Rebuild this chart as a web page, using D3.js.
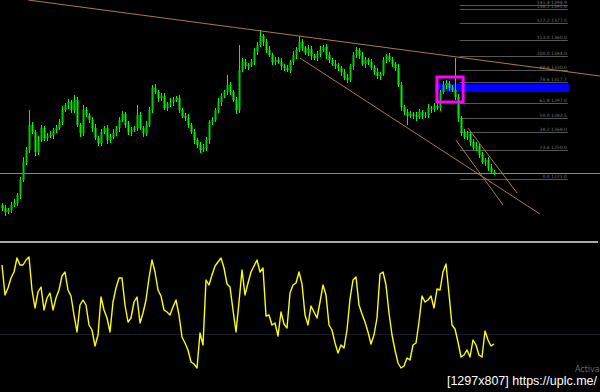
<!DOCTYPE html>
<html><head><meta charset="utf-8">
<script src="https://cdn.jsdelivr.net/npm/d3@7/dist/d3.min.js"></script>
<style>html,body{margin:0;padding:0;background:#000;overflow:hidden}</style>
</head><body>
<svg id="c" width="600" height="392"></svg>
<script>
// ---- price bars (closes, one bar per period) ----
const closes = [1192,1188,1190,1195,1197,1205,1220,1238,1250,1275,
1268,1248,1260,1272,1262,1264,1265,1270,1272,1278,
1290,1295,1298,1290,1300,1275,1267,1290,1285,1280,
1272,1262,1257,1268,1272,1260,1263,1267,1272,1280,
1286,1275,1268,1270,1272,1285,1272,1267,1275,1290,
1312,1308,1302,1304,1292,1296,1298,1300,1302,1290,
1284,1282,1275,1268,1260,1255,1250,1252,1260,1278,
1280,1290,1298,1304,1308,1315,1308,1300,1290,1330,
1338,1334,1335,1338,1348,1355,1364,1358,1350,1345,
1338,1340,1338,1334,1332,1330,1338,1345,1350,1358,
1352,1347,1351,1344,1342,1346,1350,1353,1345,1340,
1336,1334,1332,1328,1322,1320,1334,1345,1350,1344,
1336,1340,1338,1332,1328,1324,1326,1340,1344,1340,
1336,1332,1315,1293,1288,1284,1286,1284,1283,1288,
1284,1285,1292,1291,1294,1292,1308,1315,1317,1312,
1310,1303,1282,1267,1263,1266,1258,1252,1254,1245,
1238,1240,1232,1228,1228];
const firstOpen = 1195;
const wickUp = [2,3,2,3,4,2,3,5,3,15, 3,2,4,3,2,3,4,2,3,3, 4,2,3,2,5,3,2,5,3,2,
3,4,2,3,2,3,3,4,2,3, 3,2,4,3,2,10,3,2,4,3, 3,4,2,3,3,2,4,3,2,3,
2,3,4,2,3,2,3,4,3,2, 3,2,4,3,2,10,3,2,3,25, 4,3,2,3,4,3,6,2,3,4,
2,3,3,4,2,3,2,4,3,6, 3,2,4,3,2,3,4,2,3,3, 2,4,3,2,3,4,2,3,3,2,
4,3,2,3,3,4,2,3,2,3, 3,2,4,3,2,3,3,2,4,3, 2,3,4,2,3,3,2,4,3,2,
3,32,3,2,4,3,2,3,4,2, 3,2,3,4,2];
const wickDn = [3,4,2,3,2,3,4,2,3,3, 2,4,3,2,3,3,2,4,3,2, 3,2,4,3,3,2,4,3,2,3,
4,2,3,3,2,4,3,2,3,4, 2,3,3,4,2,3,2,4,3,2, 3,2,4,3,2,3,3,4,2,3,
2,3,3,2,4,3,3,2,3,4, 3,2,3,4,2,3,3,2,4,3, 2,3,4,2,3,3,2,4,3,2,
3,3,2,4,3,2,3,3,4,2, 3,2,3,4,2,3,3,2,4,3, 2,3,3,4,2,3,2,4,3,3,
2,4,3,2,3,3,4,2,3,2, 3,3,2,4,3,9,2,3,4,2, 3,2,3,4,3,2,3,2,4,3,
2,3,4,3,2,3,4,2,3,3, 2,4,3,2,3];

// ---- oscillator (lower panel) ----
const osc = [107,77,84,94,100,114,107,107,112,115,
82,64,80,85,62,74,79,62,74,82,
96,100,82,76,57,40,67,72,67,47,
42,26,37,75,62,54,40,70,84,94,
94,67,50,54,70,75,49,59,72,94,
112,100,82,76,62,60,57,65,72,57,
35,29,22,10,8,4,39,27,92,87,
97,106,110,114,104,88,85,62,40,70,
102,77,89,100,106,112,100,104,56,57,
47,49,36,60,48,44,79,87,89,100,
88,57,47,66,60,54,70,87,77,47,
42,29,19,27,24,42,73,92,95,67,
58,50,40,28,37,54,98,100,87,59,
37,22,9,4,6,14,12,27,29,50,
76,70,72,76,64,83,82,100,108,78,
47,43,30,15,17,22,15,32,27,17,
15,41,32,26,28];
const oscLevel = 38;

// ---- fibonacci retracement ----
const fibLevels = [0, 23.6, 38.2, 50, 61.8, 78.6, 88.6, 100, 113, 127.2, 138.2, 141.4];
const fibLowPrice = 1221, fibHighPrice = 1344;
const fibSpan = [152.6, 188.6];        // bar-index range of the fib lines

// ---- drawn objects (bar index, price) ----
const trendLines = [
  [[8.7, 1400], [199.3, 1324]],
  [[99.3, 1342], [179.3, 1186]],
  [[151.3, 1260], [167.0, 1195]],
  [[155.3, 1272], [171.7, 1207]]
];
const currentPrice = 1227;
const zoneBand = {from: 144.3, to: 189, lo: 1308, hi: 1316};
const markBox = {from: 145, to: 153.7, lo: 1298, hi: 1323};

// ================= drawing =================
const svg = d3.select("#c");
svg.append("rect").attr("width",600).attr("height",392).attr("fill","#000");

const x = d3.scaleLinear().domain([0, 164]).range([2, 494]);
const y = d3.scaleLinear().domain([1162, 1400]).range([238, 0]);
const yo = d3.scaleLinear().domain([0, 120]).range([372, 252]);
const fibPrice = l => fibLowPrice + (fibHighPrice - fibLowPrice) * l / 100;

const bars = closes.map((c, i) => {
  const o = i === 0 ? firstOpen : closes[i-1];
  return {i, o, c, h: Math.max(o, c) + wickUp[i], l: Math.min(o, c) - wickDn[i]};
});

const main = svg.append("g");
// fib lines
const fib = main.append("g");
fib.selectAll("line").data(fibLevels).join("line")
  .attr("x1", x(fibSpan[0])).attr("x2", x(fibSpan[1]))
  .attr("y1", d => Math.round(y(fibPrice(d))) + 0.5)
  .attr("y2", d => Math.round(y(fibPrice(d))) + 0.5)
  .attr("stroke", "#555555").attr("stroke-width", 1);
fib.selectAll("text").data(fibLevels).join("text")
  .attr("x", x(fibSpan[1]) - 1).attr("y", d => Math.round(y(fibPrice(d))) - 1)
  .attr("text-anchor", "end").attr("font-family", "DejaVu Sans").attr("font-size", 4.5)
  .attr("fill", "#6c7884")
  .text(d => d.toFixed(1) + " " + fibPrice(d).toFixed(1));

// current price line
main.append("line").attr("x1", 0).attr("x2", 600)
  .attr("y1", Math.round(y(currentPrice)) + 0.5).attr("y2", Math.round(y(currentPrice)) + 0.5)
  .attr("stroke", "#8a8a8a").attr("stroke-width", 1);

// blue zone
main.append("rect")
  .attr("x", x(zoneBand.from)).attr("width", x(zoneBand.to) - x(zoneBand.from))
  .attr("y", y(zoneBand.hi)).attr("height", y(zoneBand.lo) - y(zoneBand.hi))
  .attr("fill", "#0000ff");

// candles
const cg = main.append("g");
cg.selectAll("line").data(bars).join("line")
  .attr("x1", d => Math.round(x(d.i)) + 0.5).attr("x2", d => Math.round(x(d.i)) + 0.5)
  .attr("y1", d => y(d.h)).attr("y2", d => y(d.l))
  .attr("stroke", "#00ff00").attr("stroke-width", 1);
cg.selectAll("rect").data(bars).join("rect")
  .attr("x", d => Math.round(x(d.i)) - 0.5).attr("width", 2)
  .attr("y", d => y(Math.max(d.o, d.c)))
  .attr("height", d => Math.max(1, Math.abs(y(d.o) - y(d.c))))
  .attr("fill", d => d.c >= d.o ? "#00cc00" : "#00ee00");

// trend lines
main.selectAll("line.tl").data(trendLines).join("line").attr("class", "tl")
  .attr("x1", d => x(d[0][0])).attr("y1", d => y(d[0][1]))
  .attr("x2", d => x(d[1][0])).attr("y2", d => y(d[1][1]))
  .attr("stroke", "#b07a3c").attr("stroke-width", 1);

// magenta box
main.append("rect")
  .attr("x", x(markBox.from)).attr("width", x(markBox.to) - x(markBox.from))
  .attr("y", y(markBox.hi)).attr("height", y(markBox.lo) - y(markBox.hi))
  .attr("fill", "none").attr("stroke", "#ff00ff").attr("stroke-width", 3);

// separator
svg.append("rect").attr("x", 0).attr("y", 241).attr("width", 598).attr("height", 2).attr("fill", "#a8a8a8");

// oscillator
svg.append("line").attr("x1", 0).attr("x2", 600)
  .attr("y1", Math.round(yo(oscLevel)) + 0.5).attr("y2", Math.round(yo(oscLevel)) + 0.5)
  .attr("stroke", "#1c1a26").attr("stroke-width", 1);
svg.append("path").datum(osc)
  .attr("d", d3.line().x((d, i) => x(i)).y(d => yo(d)))
  .attr("fill", "none").attr("stroke", "#ffff00").attr("stroke-width", 1.4)
  .attr("stroke-linejoin", "round");

// watermark texts
svg.append("text").attr("x", 575).attr("y", 372).attr("font-family", "DejaVu Sans")
  .attr("font-size", 8).attr("fill", "#6a6a6a").text("Activa");
svg.append("text").attr("x", 597).attr("y", 385).attr("text-anchor", "end")
  .attr("font-family", "Liberation Sans").attr("font-size", 12.5).attr("fill", "#ffffff")
  .text("[1297x807] https://uplc.me/");
</script>
</body></html>
